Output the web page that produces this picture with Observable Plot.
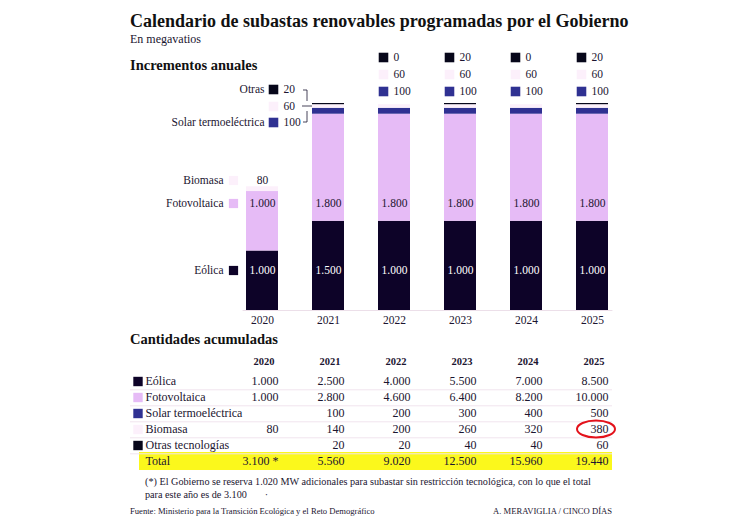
<!DOCTYPE html>
<html><head><meta charset="utf-8">
<script src="https://cdn.jsdelivr.net/npm/d3@7"></script>
<script src="https://cdn.jsdelivr.net/npm/@observablehq/plot@0.6"></script>
<style>
body{margin:0;background:#fff;font-family:"Liberation Serif",serif;color:#1b1530;}
#page{position:relative;width:744px;height:531px;overflow:hidden;background:#fff;}
.t{position:absolute;white-space:nowrap;z-index:2;line-height:1;}
#chart,#table{position:absolute;left:0;z-index:1;}
</style></head><body><div id="page">
<div class="t" style="left:130px;top:12px;font-size:18px;font-weight:bold;color:#111">Calendario de subastas renovables programadas por el Gobierno</div>
<div class="t" style="left:130px;top:33px;font-size:12px">En megavatios</div>
<div class="t" style="left:130px;top:58px;font-size:14.5px;font-weight:bold;color:#111">Incrementos anuales</div>
<div id="chart" style="top:48px"></div>
<div class="t" style="left:130px;top:332px;font-size:14.5px;font-weight:bold;color:#111">Cantidades acumuladas</div>
<div id="table" style="top:350px"></div>
<div class="t" style="left:145px;top:477px;font-size:10.2px">(*) El Gobierno se reserva 1.020 MW adicionales para subastar sin restricción tecnológica, con lo que el total</div>
<div class="t" style="left:145px;top:490px;font-size:10.2px">para este año es de 3.100 &nbsp;&nbsp;&nbsp;&nbsp;&nbsp;&nbsp;·</div>
<div class="t" style="left:130px;top:507px;font-size:8.6px">Fuente: Ministerio para la Transición Ecológica y el Reto Demográfico</div>
<div class="t" style="right:132px;top:507px;font-size:8.6px">A. MERAVIGLIA / CINCO DÍAS</div>
</div>
<script>
// ---- Data: annual increments (MW) ----
const years = ["2020","2021","2022","2023","2024","2025"];
const eolica = [1000,1500,1500,1500,1500,1500];
const eolicaLabels = ["1.000","1.500","1.000","1.000","1.000","1.000"];
const fotovoltaica = [1000,1800,1800,1800,1800,1800];
const solar = [0,100,100,100,100,100];
const biomasa = [80,60,60,60,60,60];
const otras = [0,20,0,20,0,20];
const techs = ["Eólica","Fotovoltaica","Solar termoeléctrica","Biomasa","Otras"];
const techColors = ["#0d0328","#e6bbf6","#2f3192","#fcf0fb","#07071a"];

// ---- Data: accumulated table ----
const tableRows = ["Eólica","Fotovoltaica","Solar termoeléctrica","Biomasa","Otras tecnologías","Total"];
const tableEolica = ["1.000","2.500","4.000","5.500","7.000","8.500"];
const tableFoto = ["1.000","2.800","4.600","6.400","8.200","10.000"];
const tableSolar = ["","100","200","300","400","500"];
const tableBiomasa = ["80","140","200","260","320","380"];
const tableOtras = ["","20","20","40","40","60"];
const tableTotal = ["3.100 *","5.560","9.020","12.500","15.960","19.440"];

const fmt = n => n.toLocaleString("de-DE");
const ink = "#1b1530";
const font = "Liberation Serif, serif";

const series = [eolica, fotovoltaica, solar, biomasa, otras];
const long = [];
years.forEach((yr, i) => techs.forEach((t, k) => long.push({year: yr, tech: t, value: series[k][i]})));

// legend helper: square + label (left) + value (right)
function legendRow(year, anchor, dy, {label, color, value, labelDx, squareDx, valueDx, r = 5.4}) {
  const m = [];
  const base = {x: () => year, frameAnchor: anchor, lineAnchor: "middle", dy, fontFamily: font, fontSize: 11.5, fill: ink};
  m.push(Plot.dot([year], {x: d => d, frameAnchor: anchor, dy, dx: squareDx, symbol: "square", r, fill: color, stroke: "none"}));
  if (label) m.push(Plot.text([year], {...base, text: () => label, dx: labelDx, textAnchor: "end"}));
  if (value !== undefined) m.push(Plot.text([year], {...base, text: () => value, dx: valueDx, textAnchor: "start"}));
  return m;
}

const lbl = {frameAnchor: "bottom", lineAnchor: "middle", fontSize: 11.5, fontFamily: font};
const marks = [
  Plot.ruleY([0], {stroke: "#ecdfe9", strokeWidth: 1.2, insetLeft: 16, insetRight: 15}),
  Plot.barY(long, {x: "year", y: "value", fill: "tech"}),
  Plot.text(years, {...lbl, x: d => d, text: d => d, dy: 10, fill: ink}),
  Plot.text(years, {...lbl, x: d => d, text: (d, i) => eolicaLabels[i], dy: -40, fill: "#fff"}),
  Plot.text(years, {...lbl, x: d => d, text: (d, i) => fmt(fotovoltaica[i]), dy: -107, fill: ink}),
  Plot.text(["2020"], {...lbl, x: d => d, text: () => String(biomasa[0]), dy: -130, fill: ink}),
  // 2020 legend on the left
  ...legendRow("2020", "bottom", -40, {label: techs[0], color: techColors[0], labelDx: -39, squareDx: -29, r: 5.2}),
  ...legendRow("2020", "bottom", -107, {label: techs[1], color: techColors[1], labelDx: -39, squareDx: -29, r: 5.2}),
  ...legendRow("2020", "bottom", -130, {label: techs[3], color: techColors[3], labelDx: -39, squareDx: -29, r: 5.2}),
  // 2021 legend on the left of the bar
  ...legendRow("2021", "top", -14, {label: "Otras", color: techColors[4], value: String(otras[1]), labelDx: -64, squareDx: -55, valueDx: -45}),
  ...legendRow("2021", "top", 3, {color: techColors[3], value: String(biomasa[1]), squareDx: -55, valueDx: -45}),
  ...legendRow("2021", "top", 19, {label: "Solar termoeléctrica", color: techColors[2], value: String(solar[1]), labelDx: -64, squareDx: -55, valueDx: -45}),
];
// 2022-2025 legends above bars
years.slice(2).forEach((yr, j) => {
  const i = j + 2;
  marks.push(...legendRow(yr, "top", -46, {color: techColors[4], value: String(otras[i]), squareDx: -11, valueDx: -1}));
  marks.push(...legendRow(yr, "top", -29, {color: techColors[3], value: String(biomasa[i]), squareDx: -11, valueDx: -1}));
  marks.push(...legendRow(yr, "top", -12, {color: techColors[2], value: String(solar[i]), squareDx: -11, valueDx: -1}));
});

const chart = Plot.plot({
  width: 744, height: 285,
  marginTop: 55, marginBottom: 23, marginLeft: 226.6, marginRight: 116.6,
  style: {background: "transparent", fontFamily: font, fontSize: "11px", color: ink},
  x: {type: "band", domain: years, paddingInner: 0.52, paddingOuter: 0.26, axis: null},
  y: {domain: [0, 3480], axis: null},
  color: {domain: techs, range: techColors},
  marks
});
document.getElementById("chart").append(chart);

// bracket next to the 2021 legend
try {
  const xs = chart.scale("x");
  const cx = xs.apply("2021") + (xs.bandwidth || 0) / 2;
  const top = 55;
  d3.select(chart).append("path")
    .attr("d", `M${cx-25},${top-13}H${cx-21}V${top-2} M${cx-26},${top+3}H${cx-16} M${cx-21},${top+8}V${top+19}H${cx-25}`)
    .attr("fill", "none").attr("stroke", ink).attr("stroke-width", 0.8);
} catch (e) {}

// ---- Table ----
const tableVals = [tableEolica, tableFoto, tableSolar, tableBiomasa, tableOtras, tableTotal];
const cells = [];
tableRows.forEach((r, k) => years.forEach((yr, i) => cells.push({row: r, year: yr, v: tableVals[k][i]})));
const rowColors = [techColors[0], techColors[1], techColors[2], techColors[3], techColors[4]];

const table = Plot.plot({
  width: 744, height: 128,
  marginTop: 21.7, marginBottom: 6.7, marginLeft: 277, marginRight: 136,
  style: {background: "transparent", fontFamily: font, fontSize: "12px", color: ink},
  x: {type: "point", domain: years, padding: 0, axis: null},
  y: {type: "band", domain: tableRows, paddingInner: 0, paddingOuter: 0, axis: null},
  marks: [
    Plot.cell(["Total"], {y: d => d, fill: "#fbf81c", insetLeft: -138, insetRight: -4, insetTop: -1, insetBottom: -1}),
    Plot.ruleY(tableRows.slice(0, 5), {y: d => d, dy: 8.3, stroke: "#f1e4ee", insetLeft: -147, insetRight: -4}),
    Plot.text(years, {x: d => d, text: d => d, frameAnchor: "top", lineAnchor: "middle", dy: -11, dx: -4, textAnchor: "end", fontWeight: "bold", fontSize: 10.5, fill: ink}),
    Plot.dot(tableRows.slice(0, 5), {y: d => d, frameAnchor: "left", dx: -139.5, symbol: "square", r: 5.3, fill: (d, i) => rowColors[i], stroke: "none"}),
    Plot.text(tableRows, {y: d => d, text: d => d, frameAnchor: "left", lineAnchor: "middle", dx: (-132), textAnchor: "start", fontSize: 12, fill: ink}),
    Plot.text(cells, {x: "year", y: "row", text: "v", textAnchor: "end", fontSize: 12, fill: ink})
  ]
});
document.getElementById("table").append(table);

// red circle around the 2025 Biomasa value
try {
  const xs = table.scale("x"), ys = table.scale("y");
  const cx = xs.apply("2025") - 12;
  const cy = ys.apply("Biomasa") + (ys.bandwidth || 0) / 2;
  d3.select(table).append("ellipse")
    .attr("cx", cx).attr("cy", cy).attr("rx", 19).attr("ry", 8.5)
    .attr("fill", "none").attr("stroke", "#e3121b").attr("stroke-width", 2);
} catch (e) {}
</script>
</body></html>
